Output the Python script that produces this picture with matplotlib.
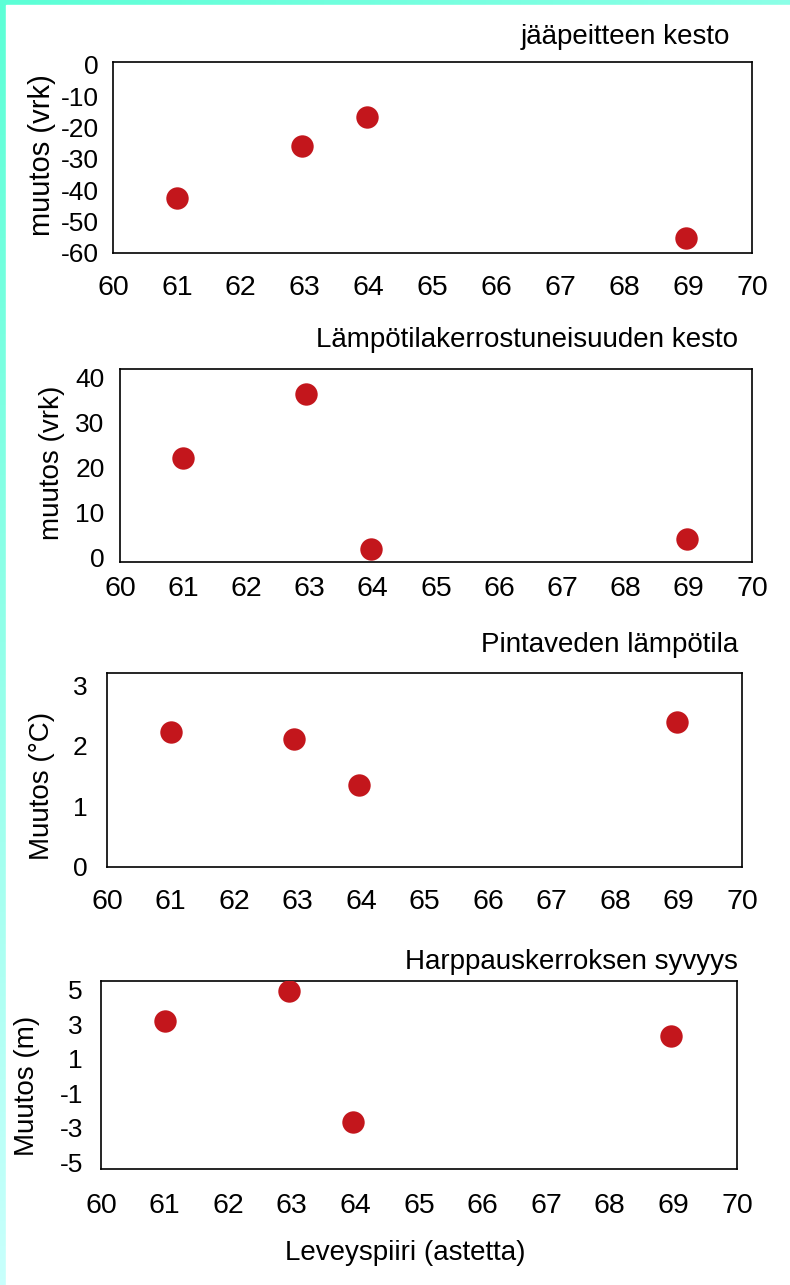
import numpy as np
import matplotlib
matplotlib.use('Agg')
import matplotlib.pyplot as plt
from matplotlib.patches import Rectangle

plt.rcParams['font.family'] = ['Liberation Sans', 'DejaVu Sans']
plt.rcParams['axes.unicode_minus'] = False

# data
lat = [61.0, 62.95, 63.97, 68.97]
ice_change = [-42.5, -25.8, -16.7, -55.3]
strat_change = [22.1, 36.3, 2.0, 4.2]
temp_change = [2.22, 2.11, 1.35, 2.39]
depth_change = [3.2, 4.9, -2.7, 2.3]

titles = ["jääpeitteen kesto", "Lämpötilakerrostuneisuuden kesto",
          "Pintaveden lämpötila", "Harppauskerroksen syvyys"]
ylabels = ["muutos (vrk)", "muutos (vrk)", "Muutos (°C)", "Muutos (m)"]
yticks = [[0, -10, -20, -30, -40, -50, -60], [0, 10, 20, 30, 40],
          [0, 1, 2, 3], [-5, -3, -1, 1, 3, 5]]
xticks = list(range(60, 71))
series = [ice_change, strat_change, temp_change, depth_change]

W, H = 790, 1285
fig = plt.figure(figsize=(W / 100, H / 100), dpi=100)

# cyan frame on top and left edge
bg = fig.add_axes([0, 0, 1, 1], zorder=-10)
yy, xx = np.mgrid[0:1:200j, 0:1:200j]
t = np.clip(xx * 0.45 + yy, 0, 1)
c0 = np.array([0x5c, 0xff, 0xd6]) / 255
c1 = np.array([0xc8, 0xff, 0xfc]) / 255
img = c0[None, None, :] * (1 - t[..., None]) + c1[None, None, :] * t[..., None]
bg.imshow(img, extent=[0, 1, 0, 1], aspect='auto', origin='upper')
bg.add_patch(Rectangle((6 / W, 0), 1, 1 - 5 / H, color='white'))
bg.set_xlim(0, 1)
bg.set_ylim(0, 1)
bg.axis('off')

# pixel boxes: left, top, right, bottom
boxes = [(113, 62, 752, 253), (120, 369, 752, 562),
         (107, 673, 742, 867), (101, 981, 737, 1169)]
ylims = [(-59.1, 0.9), (-0.9, 41.8), (0, 3.2), (-5.4, 5.5)]
xpads = [16, 10, 16, 17.5]
ypads = [10, 11, 14, 13]
title_pos = [(730, 37), (738, 340), (738, 645), (738, 962)]
ylab_pos = [(42, 155), (52, 463), (42, 786), (27, 1086)]
ylab_size = [21, 20, 20, 20]

for i in range(4):
    l, t_, r, b = boxes[i]
    ax = fig.add_axes([l / W, 1 - b / H, (r - l) / W, (b - t_) / H])
    ax.scatter(lat, series[i], s=260, color='#c3161c', zorder=3, linewidths=0)
    ax.set_xlim(60, 70)
    ax.set_ylim(*ylims[i])
    ax.set_xticks(xticks)
    ax.set_yticks(yticks[i])
    ax.tick_params(axis='x', length=0, pad=xpads[i], labelsize=20.5)
    ax.tick_params(axis='y', length=0, pad=ypads[i], labelsize=19)
    for sp in ax.spines.values():
        sp.set_linewidth(1.2)
        sp.set_color('black')
    fig.text(title_pos[i][0] / W, 1 - title_pos[i][1] / H, titles[i],
             ha='right', va='center', fontsize=20)
    fig.text(ylab_pos[i][0] / W, 1 - ylab_pos[i][1] / H, ylabels[i],
             ha='center', va='center', rotation=90, fontsize=ylab_size[i])

fig.text(405 / W, 1 - 1253 / H, "Leveyspiiri (astetta)", ha='center',
         va='center', fontsize=20)

fig.savefig('out.png', dpi=100)
